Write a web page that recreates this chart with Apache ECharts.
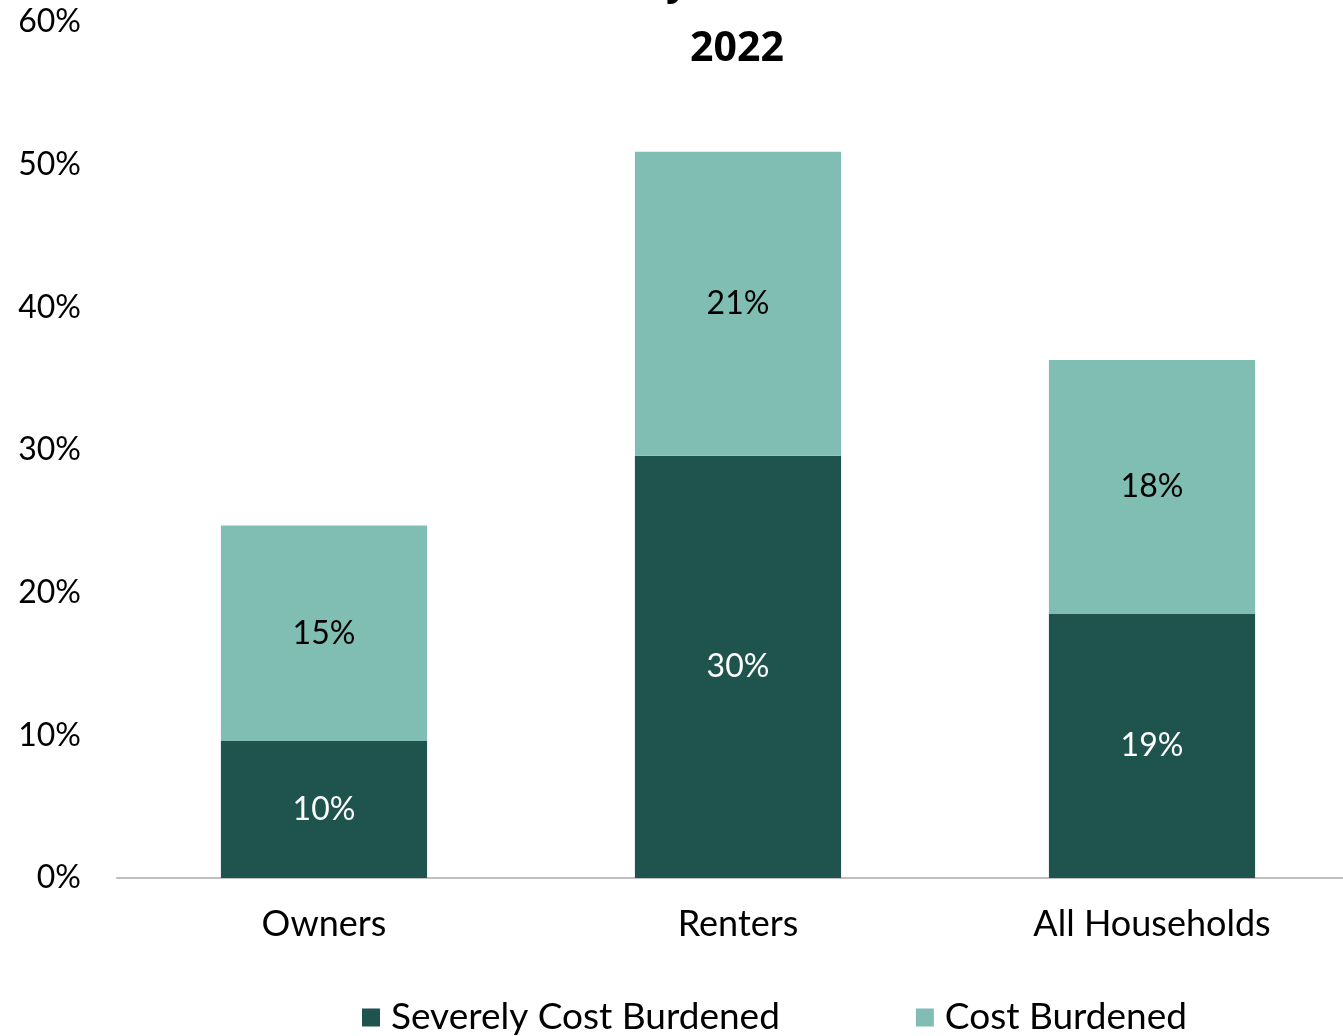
<!DOCTYPE html>
<html><head><meta charset="utf-8">
<script src="https://cdn.jsdelivr.net/npm/echarts@6/dist/echarts.min.js"></script>
<style>html,body{margin:0;padding:0;background:#fff;overflow:hidden;width:1343px;height:1036px}#c{width:1359px;height:1036px}</style>
</head><body><div id="c"></div>
<script>
const categories = ['Owners', 'Renters', 'All Households'];
const severe = [9.6, 29.6, 18.5];
const burdened = [15.1, 21.3, 17.8];
const severeLabels = ['10%', '30%', '19%'];
const burdenedLabels = ['15%', '21%', '18%'];
const yTicks = [0, 10, 20, 30, 40, 50, 60];

const chart = echarts.init(document.getElementById('c'), null, {renderer: 'canvas'});
const font = 'Lato';
chart.setOption({
  animation: false,
  title: {
    text: 'Cost Burden by Tenure and Income\n2022',
    left: 732, top: -56, textAlign: 'center',
    textStyle: {fontFamily: 'Open Sans', fontWeight: 'bold', fontSize: 41, lineHeight: 67, color: '#000'}
  },
  grid: {left: 117, right: 0, top: 22, bottom: 158, containLabel: false},
  legend: {
    bottom: -5, left: 357, itemGap: 136, itemWidth: 18, itemHeight: 18,
    icon: 'rect',
    textStyle: {fontFamily: font, fontSize: 37, color: '#000', padding: [0, 0, 0, 6]},
    data: ['Severely Cost Burdened', 'Cost Burdened']
  },
  xAxis: {
    type: 'category', data: categories,
    axisLine: {lineStyle: {color: '#bfbfbf', width: 2}},
    axisTick: {show: false},
    axisLabel: {fontFamily: font, fontSize: 36, color: '#000', margin: 28}
  },
  yAxis: {
    type: 'value', min: yTicks[0], max: yTicks[yTicks.length - 1], interval: 10,
    splitLine: {show: false}, axisLine: {show: false}, axisTick: {show: false},
    axisLabel: {fontFamily: font, fontSize: 32, color: '#000', margin: 36, formatter: v => v + '%'}
  },
  series: [
    {
      name: 'Severely Cost Burdened', type: 'bar', stack: 's', data: severe, barWidth: '49.8%',
      itemStyle: {color: '#1e534e'},
      label: {show: true, position: 'inside', fontFamily: font, fontSize: 32, color: '#fff',
        formatter: p => severeLabels[p.dataIndex]}
    },
    {
      name: 'Cost Burdened', type: 'bar', stack: 's', data: burdened, barWidth: '49.8%',
      itemStyle: {color: '#80beb4'},
      label: {show: true, position: 'inside', fontFamily: font, fontSize: 32, color: '#000',
        formatter: p => burdenedLabels[p.dataIndex]}
    }
  ]
});
</script></body></html>
